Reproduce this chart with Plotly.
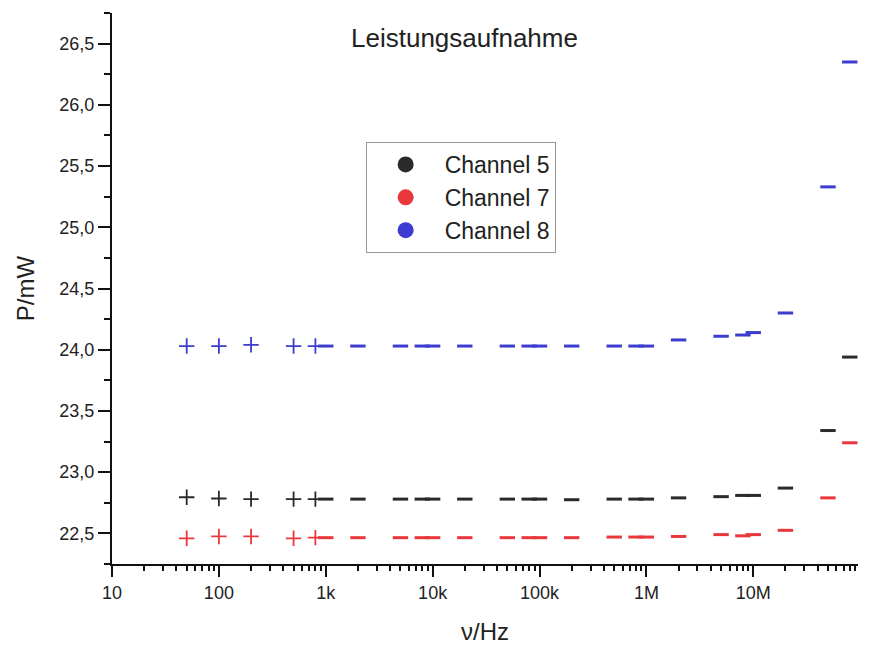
import plotly.graph_objects as go

freq_hz = [50, 100, 200, 500, 800, 1e3, 2e3, 5e3, 8e3, 1e4, 2e4, 5e4, 8e4, 1e5, 2e5,
           5e5, 8e5, 1e6, 2e6, 5e6, 8e6, 1e7, 2e7, 5e7, 8e7]
ch5 = [22.795, 22.785, 22.78, 22.78, 22.78, 22.78, 22.78, 22.78, 22.78, 22.78, 22.78,
       22.78, 22.78, 22.78, 22.775, 22.78, 22.78, 22.78, 22.79, 22.80, 22.81, 22.81,
       22.87, 23.34, 23.94]
ch7 = [22.46, 22.475, 22.475, 22.46, 22.465, 22.465, 22.465, 22.465, 22.465, 22.465, 22.465,
       22.465, 22.465, 22.465, 22.465, 22.47, 22.47, 22.47, 22.475, 22.49, 22.48, 22.49,
       22.525, 22.79, 23.24]
ch8 = [24.03, 24.03, 24.04, 24.03, 24.03, 24.03, 24.03, 24.03, 24.03, 24.03, 24.03,
       24.03, 24.03, 24.03, 24.03, 24.03, 24.03, 24.03, 24.08, 24.11, 24.12, 24.14,
       24.30, 25.33, 26.35]
series_names = ["Channel 5", "Channel 7", "Channel 8"]
series_colors = ["#2a2a2a", "#e8383c", "#3c3cd0"]
x_tickvals = [10, 100, 1e3, 1e4, 1e5, 1e6, 1e7]
x_ticktext = ["10", "100", "1k", "10k", "100k", "1M", "10M"]

minor_x = [m * 10 ** e for e in range(1, 8) for m in range(2, 10) if m * 10 ** e < 9.6e7]
symbols = ["cross-thin" if f < 1000 else "line-ew" for f in freq_hz]
widths = [1.8 if f < 1000 else 3 for f in freq_hz]

fig = go.Figure()
for name, ys, col in zip(series_names, [ch5, ch7, ch8], series_colors):
    fig.add_trace(go.Scatter(
        x=freq_hz, y=ys, mode="markers", showlegend=False,
        marker=dict(symbol=symbols, size=11, color=col, opacity=1,
                    line=dict(color=col, width=widths))))
for i, (name, col) in enumerate(zip(series_names, series_colors)):
    fig.add_trace(go.Scatter(
        x=[None], y=[None], mode="markers", name=name,
        marker=dict(symbol="circle", size=16, color=col)))

axis_font = dict(family="Liberation Sans, Arial, sans-serif", size=18, color="#222")
fig.update_layout(
    width=870, height=645,
    margin=dict(l=112, r=12, t=13, b=81),
    plot_bgcolor="white", paper_bgcolor="white",
    separators=",.",
    font=dict(family="Liberation Sans, Arial, sans-serif", color="#222"),
    legend=dict(x=0.34, y=0.766, xanchor="left", yanchor="top",
                bordercolor="#999", borderwidth=1, bgcolor="white",
                font=dict(size=23, color="#222"), traceorder="normal",
                itemsizing="trace", itemwidth=68),
    annotations=[dict(text="Leistungsaufnahme", x=0.472, y=0.955, xref="paper", yref="paper",
                      xanchor="center", yanchor="middle",
                      showarrow=False, font=dict(size=26, color="#222"))],
)
fig.update_xaxes(
    type="log", range=[1, 7.98], showgrid=False, zeroline=False, automargin=False,
    showline=True, linecolor="#111", linewidth=2,
    tickmode="array", tickvals=x_tickvals, ticktext=x_ticktext,
    ticks="outside", ticklen=11, tickwidth=2, tickcolor="#111", tickfont=axis_font,
    minor=dict(tickmode="array", tickvals=minor_x, ticks="outside", ticklen=5,
               tickwidth=1.5, tickcolor="#111", showgrid=False),
    title=dict(text="ν/Hz", font=dict(size=24, color="#222"), standoff=26),
)
fig.update_yaxes(
    range=[22.25, 26.75], showgrid=False, zeroline=False, automargin=False,
    showline=True, linecolor="#111", linewidth=2,
    tickmode="linear", tick0=22.5, dtick=0.5, tickformat=".1f",
    ticks="outside", ticklen=12, tickwidth=2, tickcolor="#111", tickfont=axis_font,
    minor=dict(dtick=0.25, tick0=22.25, ticks="outside", ticklen=6, tickwidth=1.5,
               tickcolor="#111", showgrid=False),
    title=dict(text="P/mW", font=dict(size=24, color="#222"), standoff=18),
)
fig.write_html("out.html")
